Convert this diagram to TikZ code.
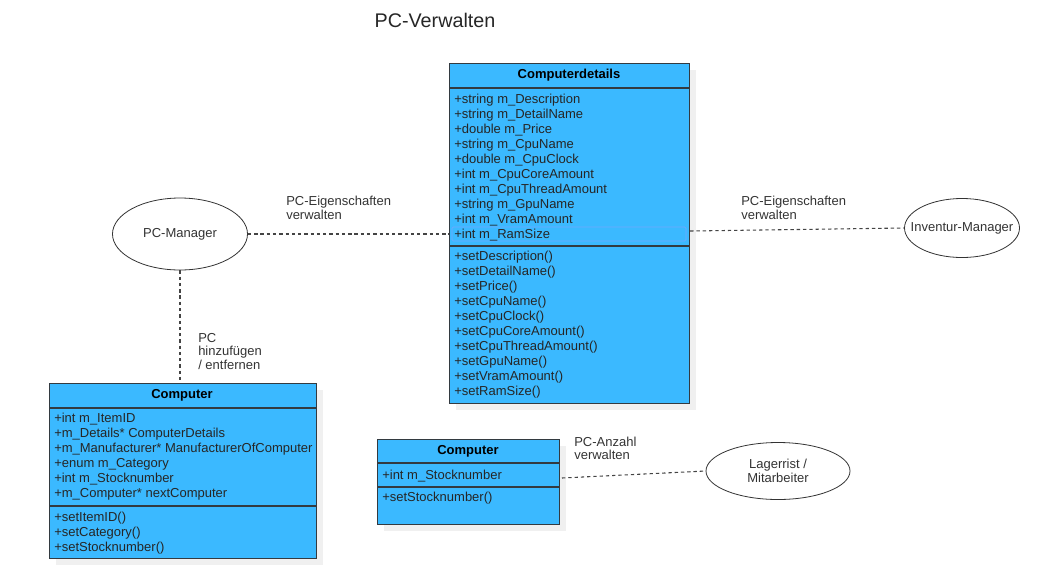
\documentclass[tikz,border=0pt]{standalone}
\usepackage{fontspec}
\setmainfont{Liberation Sans}
\usetikzlibrary{shadows,shapes.geometric}

\definecolor{classblue}{HTML}{3BB9FF}
\definecolor{classline}{HTML}{333A40}
\definecolor{linkgray}{HTML}{444444}
\definecolor{selblue}{HTML}{6FA8FF}

\begin{document}
\begin{tikzpicture}[x=0.75pt,y=-0.75pt,
	font=\fontsize{9.75}{11}\selectfont,
	classbox/.style={rectangle, draw=classline, line width=0.9pt, fill=classblue, anchor=north west, inner sep=0pt,
		drop shadow={shadow xshift=5pt, shadow yshift=-5pt, fill=black!6, opacity=1}},
	divider/.style={draw=classline, line width=0.9pt},
	row/.style={anchor=west, inner sep=0pt, text=black!85},
	head/.style={inner sep=0pt, font=\fontsize{9.75}{11}\selectfont\bfseries},
	actor/.style={ellipse, draw=black!80, line width=0.6pt, fill=white, inner sep=0pt},
	actortext/.style={text=black!80, align=center, font=\fontsize{9.75}{10.5}\selectfont},
	link/.style={draw=linkgray, line width=0.8pt, dash pattern=on 2.5pt off 2.2pt},
	note/.style={anchor=west, align=left, inner sep=0pt, text=black!80, font=\fontsize{9.75}{10.2}\selectfont}]
	\useasboundingbox (0,0) rectangle (1063,565);
	
	\node[inner sep=0pt, font=\fontsize{14.8}{17}\selectfont, text=black!85] (title) at (435,20) {PC-Verwalten};
	
	%COMPUTERDETAILS
	\node[classbox, minimum width=180pt, minimum height=255pt] (details) at (449,63) {};
	\node[head] (detailshead) at (569,75.5) {Computerdetails};
	\draw[divider] (details.west |- 0,88) -- (details.east |- 0,88);
	\draw[divider] (details.west |- 0,246) -- (details.east |- 0,246);
	\draw[selblue, line width=0.5pt, rounded corners=1pt] (452,227) rectangle (686,241);
	\foreach \t [count=\i] in {+string m\_Description, +string m\_DetailName, +double m\_Price,
		+string m\_CpuName, +double m\_CpuClock, +int m\_CpuCoreAmount, +int m\_CpuThreadAmount,
		+string m\_GpuName, +int m\_VramAmount, +int m\_RamSize}
	\node[row] (da\i) at (454,{85+15*\i}) {\t};
	\foreach \t [count=\i] in {+setDescription(), +setDetailName(), +setPrice(), +setCpuName(),
		+setCpuClock(), +setCpuCoreAmount(), +setCpuThreadAmount(), +setGpuName(),
		+setVramAmount(), +setRamSize()}
	\node[row] (dm\i) at (454,{242+15*\i}) {\t};
	
	%COMPUTER (LEFT)
	\node[classbox, minimum width=200.25pt, minimum height=131.25pt] (comp) at (49,383) {};
	\node[head] (comphead) at (182,395.5) {Computer};
	\draw[divider] (comp.west |- 0,408) -- (comp.east |- 0,408);
	\draw[divider] (comp.west |- 0,506) -- (comp.east |- 0,506);
	\foreach \t [count=\i] in {+int m\_ItemID, +m\_Details* ComputerDetails,
		+m\_Manufacturer* ManufacturerOfComputer, +enum m\_Category, +int m\_Stocknumber,
		+m\_Computer* nextComputer}
	\node[row] (ca\i) at (54,{404+15*\i}) {\t};
	\foreach \t [count=\i] in {+setItemID(), +setCategory(), +setStocknumber()}
	\node[row] (cm\i) at (54,{503+15*\i}) {\t};
	
	%COMPUTER (STOCK)
	\node[classbox, minimum width=136.5pt, minimum height=63.75pt] (stock) at (377,439) {};
	\node[head] (stockhead) at (468,451.5) {Computer};
	\draw[divider] (stock.west |- 0,463) -- (stock.east |- 0,463);
	\draw[divider] (stock.west |- 0,487) -- (stock.east |- 0,487);
	\node[row] (sa1) at (382,476) {+int m\_Stocknumber};
	\node[row] (sm1) at (382,498) {+setStocknumber()};
	
	%ACTORS
	\node[actor, minimum width=101.25pt, minimum height=54pt,
		label={[actortext]center:PC-Manager}] (pcman) at (180,234) {};
	\node[actor, minimum width=86.25pt, minimum height=44.25pt,
		label={[actortext]center:Inventur-Manager}] (inv) at (962,228) {};
	\node[actor, minimum width=108pt, minimum height=42.75pt,
		label={[actortext]center:Lagerrist /\\Mitarbeiter}] (lager) at (778,471) {};
	
	%LINKS
	\draw[link] (pcman.east) -- (pcman.east -| details.west);
	\draw[link] (pcman.south) -- (pcman.south |- comp.north);
	\coordinate (ramend) at (details.east |- 0,231);
	\draw[link] (ramend) -- (inv.west);
	\coordinate (stockend) at (562,478);
	\draw[link] (stockend) -- (lager.west);
	
	%LABELS
	\node[note] (lblprops) at (286,208) {PC-Eigenschaften\\verwalten};
	\node[note] (lblinv) at (741,208) {PC-Eigenschaften\\verwalten};
	\node[note] (lbladd) at (198,351.5) {PC\\hinzufügen\\/ entfernen};
	\node[note] (lblcount) at (574,448.5) {PC-Anzahl\\verwalten};
\end{tikzpicture}
\end{document}
